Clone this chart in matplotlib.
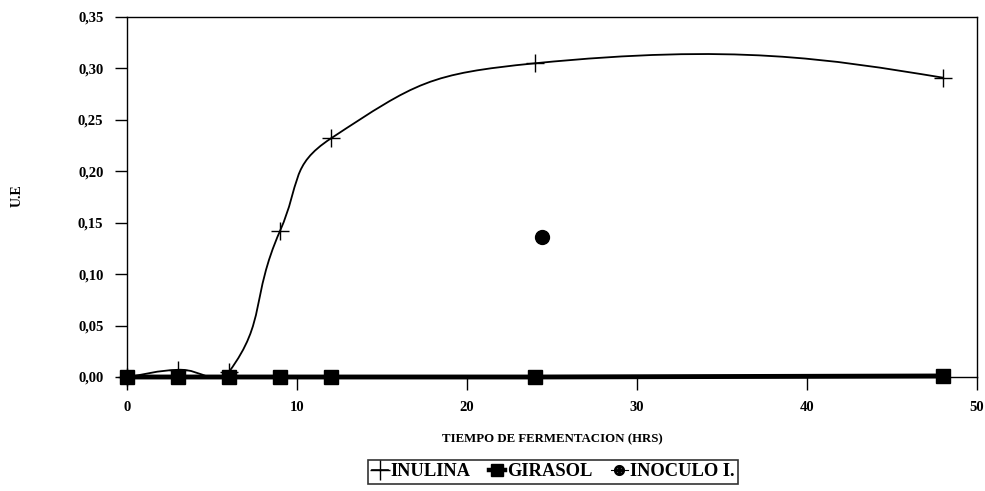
import numpy as np
import matplotlib
matplotlib.use("Agg")
import matplotlib.pyplot as plt
from matplotlib.path import Path
from matplotlib.patches import PathPatch
from matplotlib.lines import Line2D

plt.rcParams["font.family"] = ["Liberation Serif", "DejaVu Serif"]
plt.rcParams["font.weight"] = "bold"

# --- data ---
horas = [0, 3, 6, 9, 12, 24, 48]
inulina = [0.000, 0.007, 0.005, 0.142, 0.232, 0.305, 0.291]
girasol = [0.000, 0.000, 0.000, 0.000, 0.000, 0.000, 0.001]
inoculo = [0.000, 0.000, 0.000, 0.000, 0.000, 0.000, 0.000]
# scan stain visible inside the plot area
mancha_x = [24.4]
mancha_y = [0.136]

y_ticks = [0.0, 0.05, 0.10, 0.15, 0.20, 0.25, 0.30, 0.35]
x_ticks = [0, 10, 20, 30, 40, 50]


def smooth_path(ax, xs, ys, f=0.5):
    # spreadsheet-like smoothed line, control points worked out in screen space
    pts = ax.transData.transform(np.column_stack([xs, ys]))
    n = len(pts)
    dist = lambda a, b: np.hypot(*(b - a))
    verts = [pts[0]]
    codes = [Path.MOVETO]
    for i in range(n - 1):
        p0 = pts[i - 1] if i > 0 else pts[i]
        p1, p2 = pts[i], pts[i + 1]
        d01, d12 = dist(p0, p1), dist(p1, p2)
        c1 = p1 + (p2 - p0) * f * d12 / (d01 + d12)
        if i + 2 < n:
            p3 = pts[i + 2]
            d23 = dist(p2, p3)
            c2 = p2 - (p3 - p1) * f * d12 / (d12 + d23)
        else:
            c2 = p2 - (p2 - c1) * 0.55
        verts += [c1, c2, p2]
        codes += [Path.CURVE4] * 3
    verts = ax.transData.inverted().transform(np.array(verts))
    return Path(verts, codes)


fig = plt.figure(figsize=(9.85, 4.91), dpi=100)
ax = fig.add_axes([127 / 985, 1 - 377 / 491, 850 / 985, 360 / 491])
ax.set_xlim(0, 50)
ax.set_ylim(0, 0.35)

ax.add_patch(PathPatch(smooth_path(ax, horas, inoculo), fill=False, lw=1.2, color="black", zorder=2))
ax.add_patch(PathPatch(smooth_path(ax, horas, inulina), fill=False, lw=1.3, color="black", zorder=3))
ax.plot(horas, inulina, linestyle="none", marker="+", ms=13, mew=1.0, color="black",
        zorder=4, clip_on=False)
ax.plot(horas, girasol, color="black", lw=3.5, marker="s", ms=10, zorder=5, clip_on=False)
ax.plot(mancha_x, mancha_y, linestyle="none", marker="o", ms=10, color="black", zorder=5)

ax.set_xticks(x_ticks)
ax.set_yticks(y_ticks)
ax.set_xticklabels([str(t) for t in x_ticks])
ax.set_yticklabels([f"{t:.2f}".replace(".", ",") for t in y_ticks])
ax.tick_params(direction="out", length=9, width=1, labelsize=10.5, pad=8)
for s in ax.spines.values():
    s.set_linewidth(1.0)

ax.set_xlabel("TIEMPO DE FERMENTACION (HRS)", fontsize=9.3, fontweight="bold", labelpad=14)
fig.text(17 / 985, 1 - 196 / 491, "U.E", rotation=90, fontsize=10, fontweight="bold",
         ha="center", va="center")

handles = [
    Line2D([], [], color="black", lw=1.2, marker="+", ms=14, mew=1.0),
    Line2D([], [], color="black", lw=3.2, marker="s", ms=9),
    Line2D([], [], color="black", lw=0.8, marker="$\\oplus$", ms=7),
]
leg = fig.legend(handles, ["INULINA", "GIRASOL", "INOCULO I."], loc="center",
                 bbox_to_anchor=(553 / 985, 1 - 472 / 491), ncol=3, frameon=True,
                 fancybox=False, edgecolor="black", handlelength=0.9, handletextpad=0.1,
                 columnspacing=1.0, borderpad=0.2, borderaxespad=0,
                 prop={"size": 13.3, "weight": "bold"})
leg.get_frame().set_linewidth(1.2)

fig.savefig("out.png", dpi=100)
